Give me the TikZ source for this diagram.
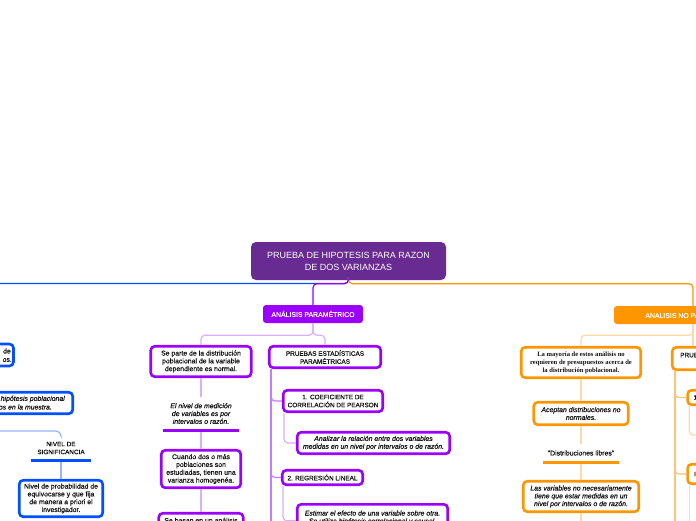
\documentclass[tikz,border=0pt]{standalone}
\usepackage{fontspec}
\setmainfont{Liberation Sans}
\newfontfamily\medsans{Liberation Sans}[FakeBold=0.6]
\newfontfamily\serifbold{Liberation Serif}
\definecolor{rootpur}{RGB}{104,43,145}
\definecolor{vpur}{RGB}{155,0,250}
\definecolor{lilac}{RGB}{218,175,255}
\definecolor{mpur}{RGB}{195,125,255}
\definecolor{bblue}{RGB}{0,80,255}
\definecolor{lblue}{RGB}{150,180,255}
\definecolor{orng}{RGB}{255,150,0}
\definecolor{lorng}{RGB}{255,218,165}
\definecolor{morng}{RGB}{255,195,120}
\definecolor{txt}{RGB}{20,20,20}
\tikzset{
  x=1pt, y=-1pt,
  txtf/.style={font=\medsans\fontsize{6.9}{7.8}\selectfont},
  itf/.style={font=\medsans\fontsize{6.9}{7.8}\selectfont\itshape},
  capf/.style={font=\medsans\fontsize{6.4}{8}\selectfont},
  box/.style={draw, line width=2.6pt, rounded corners=4pt, fill=white, align=center, inner sep=0pt, text=txt},
  pbox/.style={box, draw=vpur},
  bbox/.style={box, draw=bblue},
  obox/.style={box, draw=orng},
  plain/.style={align=center, inner sep=0pt, text=txt},
  conn/.style={line width=1.2pt, rounded corners=4pt},
  bar/.style={line width=3pt},
}
\begin{document}
\begin{tikzpicture}
\useasboundingbox (0,0) rectangle (696,520);
\fill[white] (0,0) rectangle (696,520);
\clip (0,0) rectangle (696,520);

% ---------- nodes ----------
\node[fill=rootpur, rounded corners=5pt, minimum width=195pt, minimum height=38pt, inner sep=0pt,
      text=white, align=center, font=\fontsize{9}{12}\selectfont] (root) at (348.5,261)
  {PRUEBA DE HIPOTESIS PARA RAZON\\DE DOS VARIANZAS};

\node[fill=vpur, rounded corners=3pt, minimum width=100pt, minimum height=18pt, inner sep=0pt,
      text=white, txtf] (param) at (313,314) {ANÁLISIS PARAMÉTRICO};

\node[pbox, txtf, minimum width=100.5pt, minimum height=30.5pt] (separte) at (201,361.5)
  {Se parte de la distribución\\poblacional de la variable\\dependiente es normal.};
\node[plain, itf, minimum width=76pt, minimum height=33pt] (nivelmed) at (201,413.5)
  {El nivel de medición\\de variables es por\\intervalos o razón.};
\node[pbox, txtf, minimum width=79.5pt, minimum height=37.5pt] (cuando) at (201,469)
  {Cuando dos o más\\poblaciones son\\estudiadas, tienen una\\varianza homogenéa.};
\node[pbox, txtf, minimum width=84.5pt, minimum height=37.5pt] (sebasan) at (201,532)
  {Se basan en un análisis\\\mbox{}\\\mbox{}\\\mbox{}};

\node[pbox, capf, minimum width=111.5pt, minimum height=21.5pt] (pruebas) at (325,357)
  {PRUEBAS ESTADÍSTICAS\\PARAMÉTRICAS};
\node[pbox, capf, minimum width=99.5pt, minimum height=21.5pt] (coef) at (333,401)
  {1. COEFICIENTE DE\\CORRELACIÓN DE PEARSON};
\node[pbox, itf, minimum width=152.5pt, minimum height=21.5pt] (analizar) at (373.5,443)
  {Analizar la relación entre dos variables\\medidas en un nivel por intervalos o de razón.};
\node[pbox, capf, minimum width=80.5pt, minimum height=14.5pt] (regresion) at (322.5,477.5)
  {2. REGRESIÓN LINEAL};
\node[pbox, itf, minimum width=150.5pt, minimum height=33pt] (estimar) at (372.5,520.8)
  {Estimar el efecto de una variable sobre otra.\\Se utiliza hipótesis correlacional y causal.\\\mbox{}};

% blue branch (partly outside)
\node[bbox, minimum width=71pt, minimum height=22pt] (blue1) at (-22,355) {};
\node[plain, txtf, anchor=east] (blue1a) at (11,351) {de};
\node[plain, txtf, anchor=east] (blue1b) at (12,360) {os.};
\node[bbox, minimum width=161.5pt, minimum height=21.5pt] (blue2) at (-8,403) {};
\node[plain, itf, anchor=east] (blue2a) at (65,399) {hipótesis poblacional};
\node[plain, itf, anchor=east] (blue2b) at (52,407) {os en la muestra.};
\node[plain, capf, minimum width=60pt, minimum height=24pt] (nivelsig) at (61,448)
  {NIVEL DE\\SIGNIFICANCIA};
\node[bbox, txtf, minimum width=83.5pt, minimum height=36.5pt] (nivelprob) at (61,498.5)
  {Nivel de probabilidad de\\equivocarse y que fija\\de manera a priori el\\investigador.};

% orange branch
\node[fill=orng, rounded corners=3pt, minimum width=158pt, minimum height=18pt, inner sep=0pt,
      text=white, txtf] (noparam) at (693,315) {ANALISIS NO PARAMÉTRICO};
\node[obox, minimum width=119.5pt, minimum height=30.5pt,
      font=\serifbold\bfseries\fontsize{6.6}{8}\selectfont] (mayoria) at (581,362.5)
  {La mayoría de estos análisis no\\requieren de presupuestos acerca de\\la distribución poblacional.};
\node[obox, itf, minimum width=94.5pt, minimum height=22.5pt] (aceptan) at (581,413.5)
  {Aceptan distribuciones no\\normales.};
\node[plain, txtf, minimum width=76pt, minimum height=18pt] (libres) at (581,453)
  {"Distribuciones libres"};
\node[obox, itf, minimum width=115.5pt, minimum height=30.5pt] (lasvar) at (581,496.5)
  {Las variables no necesariamente\\tiene que estar medidas en un\\nivel por intervalos o de razón.};
\node[obox, capf, minimum width=105.5pt, minimum height=22.5pt] (prue2) at (725,358.5)
  {PRUEBAS ESTADÍSTICAS NO\\PARAMÉTRICAS};
\node[obox, capf, anchor=west, inner xsep=6pt, minimum height=14.5pt] (uno) at (686.3,397.5) {1.};
\node[obox, capf, anchor=west, inner xsep=6.5pt, minimum height=19.5pt] (inn) at (686.3,474) {IN};

% ---------- coordinates for free ends ----------
\coordinate (bhub) at (-30,283.5);
\coordinate (bsrc) at (-30,431);
\coordinate (pend) at (271,540);
\coordinate (oend) at (581,540);
\coordinate (o2end) at (675,540);
\coordinate (unoc) at (720,435);
\coordinate (inend) at (689.3,540);

% ---------- connectors ----------
\draw[conn, bblue] (root.south) |- (bhub);
\draw[conn, orng] (root.south) -- ++(0,3.5) -| (noparam.north);
\draw[conn, vpur] (root.south) -- ++(0,3.5) -| (param.north);

\draw[conn, lilac] (param.south) -- ++(0,12) -| (separte.north);
\draw[conn, lilac] (param.south) -- ++(0,12) -| (pruebas.north);
\draw[conn, lilac] (separte.south) -- (nivelmed.north);
\draw[conn, lilac] (nivelmed.south) -- (cuando.north);
\draw[conn, lilac] (cuando.south) -- (sebasan.north);
\draw[bar, vpur] (nivelmed.south west) -- (nivelmed.south east);

\draw[conn, mpur] (pruebas.south west -| pend) -- (pend);
\draw[conn, mpur] (pruebas.south west -| pend) |- (coef.west);
\draw[conn, mpur] (pruebas.south west -| pend) |- (regresion.west);
\draw[conn, lilac] ([xshift=2pt]coef.south west) |- (analizar.west);
\draw[conn, lilac] ([xshift=2pt]regresion.south west) |- (estimar.west);

\draw[conn, lblue, rounded corners=5pt] (bsrc) -| (nivelsig.north);
\draw[conn, lblue] (nivelsig.south) -- (nivelprob.north);
\draw[bar, bblue] (nivelsig.south west) -- (nivelsig.south east);

\draw[conn, lorng] (noparam.south) -- ++(0,11) -| (mayoria.north);
\draw[conn, lorng] (noparam.south) -- (noparam.south |- prue2.north);
\draw[conn, lorng] (mayoria.south) -- (aceptan.north);
\draw[conn, lorng] (aceptan.south) -- (libres.north);
\draw[conn, lorng] (libres.south) -- (lasvar.north);
\draw[conn, lorng] (lasvar.south) -- (oend);
\draw[bar, orng] (libres.south west) -- (libres.south east);

\draw[conn, morng] (prue2.south west -| o2end) -- (o2end);
\draw[conn, morng] (prue2.south west -| o2end) |- (uno.west);
\draw[conn, morng] (prue2.south west -| o2end) |- (inn.west);
\draw[conn, lorng] ([xshift=3pt]uno.south west) |- (unoc);
\draw[conn, lorng] (inn.south west -| inend) -- (inend);
\end{tikzpicture}
\end{document}
